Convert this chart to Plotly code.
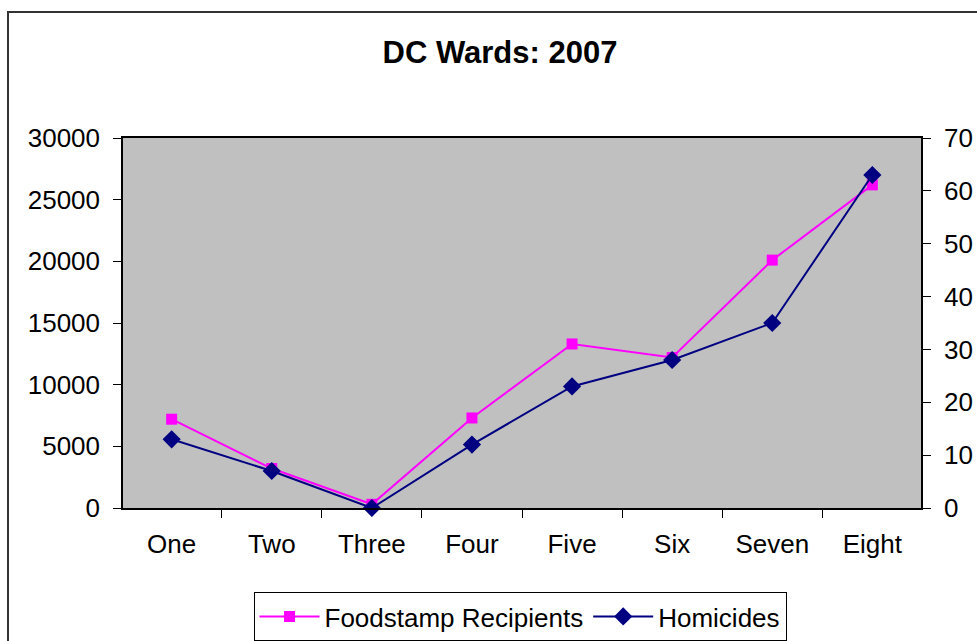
import plotly.graph_objects as go

wards = ["One", "Two", "Three", "Four", "Five", "Six", "Seven", "Eight"]
foodstamp = [7200, 3200, 300, 7300, 13300, 12200, 20100, 26200]
homicides = [13, 7, 0, 12, 23, 28, 35, 63]

W, H = 977, 641
L, R, T, B = 123, 56, 138, 133
pw, ph = W - L - R, H - T - B

def px_x(x):
    return (x - L) / pw

def px_y(y):
    return (H - B - y) / ph

FONT = "Liberation Sans, Arial, sans-serif"
FS = 26

fig = go.Figure()
fig.add_trace(go.Scatter(
    x=wards, y=foodstamp, name="Foodstamp Recipients", mode="lines+markers",
    line=dict(color="#FF00FF", width=2),
    marker=dict(symbol="square", size=11, color="#FF00FF"),
    cliponaxis=False,
))
fig.add_trace(go.Scatter(
    x=wards, y=homicides, name="Homicides", mode="lines+markers", yaxis="y2",
    line=dict(color="#000080", width=2),
    marker=dict(symbol="diamond", size=14, color="#000080"),
    cliponaxis=False,
))

fig.update_layout(
    width=W, height=H,
    margin=dict(l=L, r=R, t=T, b=B, autoexpand=False),
    paper_bgcolor="white",
    plot_bgcolor="#C0C0C0",
    font=dict(family=FONT, size=FS, color="black"),
    title=dict(text="<b>DC Wards: 2007</b>", x=px_x(500), xanchor="center",
               y=1 - 52 / H, yanchor="middle", xref="paper",
               font=dict(family=FONT, size=31, color="black")),
    xaxis=dict(
        type="category", tickson="boundaries", ticks="outside", ticklen=8,
        tickcolor="black", showline=True, linecolor="black", linewidth=1.5,
        mirror=True, showgrid=False, ticklabelstandoff=12, automargin=False,
        tickfont=dict(size=FS),
    ),
    yaxis=dict(
        range=[0, 30000], dtick=5000, tickformat="d", ticks="outside", ticklen=8,
        tickcolor="black", showline=True, linecolor="black", linewidth=1.5,
        showgrid=False, zeroline=False, ticklabelstandoff=8, automargin=False,
        tickfont=dict(size=FS),
    ),
    yaxis2=dict(
        range=[0, 70], dtick=10, overlaying="y", side="right", ticks="outside",
        ticklen=8, tickcolor="black", showline=True, linecolor="black",
        linewidth=1.5, showgrid=False, zeroline=False, ticklabelstandoff=8,
        automargin=False, tickfont=dict(size=FS),
    ),
    showlegend=True,
    legend=dict(
        orientation="h", x=px_x(520), xanchor="center", y=px_y(592), yanchor="top",
        bordercolor="black", borderwidth=1, bgcolor="white",
        font=dict(size=FS), itemwidth=60,
    ),
    shapes=[dict(
        type="rect", xref="paper", yref="paper",
        x0=px_x(8), x1=px_x(990), y0=px_y(660), y1=px_y(12),
        line=dict(color="#333333", width=2), layer="below",
    )],
)

fig.write_html("out.html", config={"displayModeBar": False},
               post_script="document.body.style.margin='0';document.body.style.overflow='hidden';")
